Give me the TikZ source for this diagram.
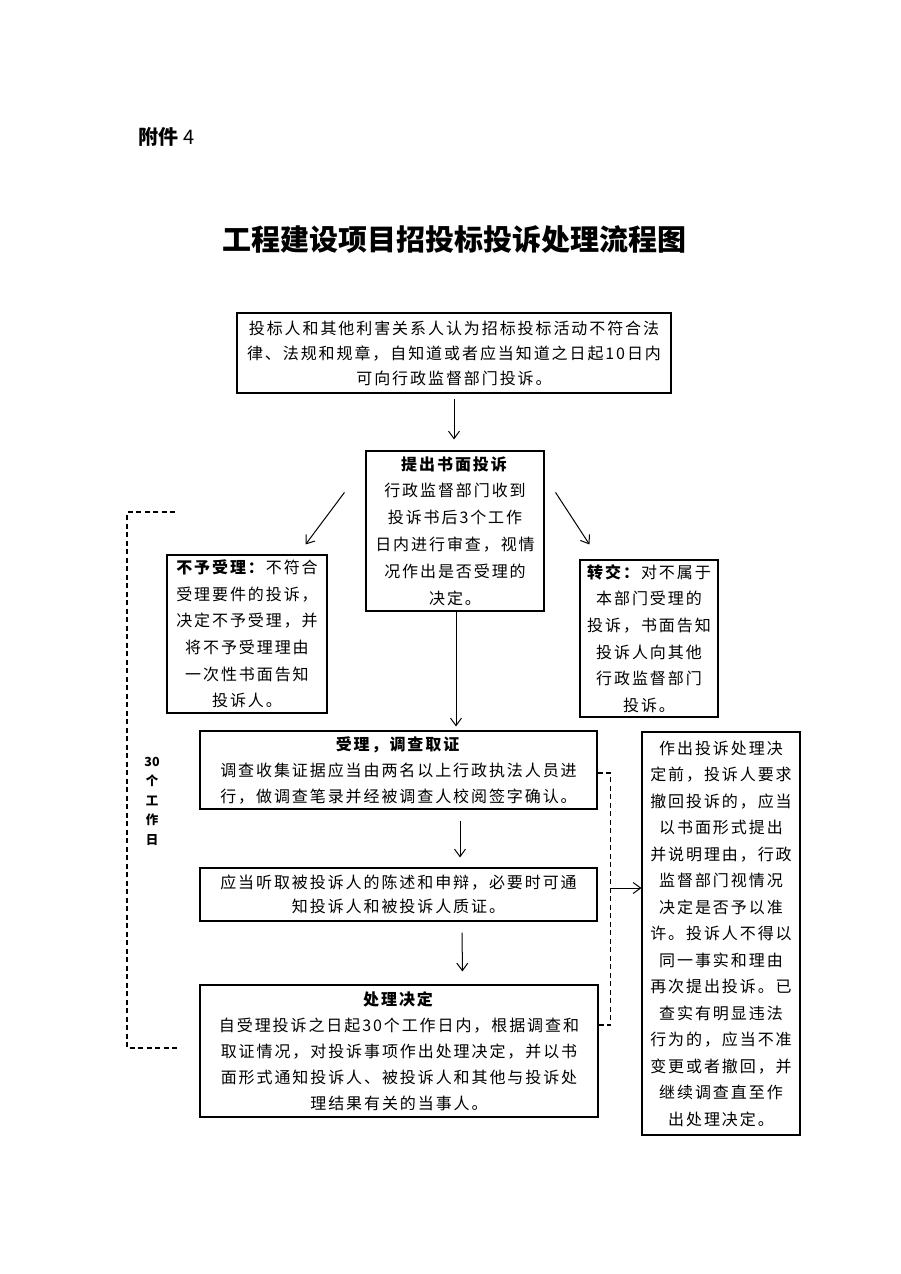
\documentclass[tikz,border=0pt]{standalone}
\usepackage{fontspec}
\setmainfont{Noto Sans CJK SC}
\newfontfamily\bodyf{Noto Sans CJK SC}[LetterSpace=12]
\usetikzlibrary{arrows.meta}
\tikzset{
  box/.style={draw, line width=1.1pt, align=center, inner sep=0pt,
    font={\bodyf\fontsize{16}{26}\selectfont}},
  arr/.style={line width=1pt, -{Straight Barb[length=7.5pt,width=11pt]}},
  dsh/.style={line width=1.1pt, dash pattern=on 5pt off 3.5pt},
}
\begin{document}
\begin{tikzpicture}[x=1pt,y=-1pt]
\useasboundingbox[fill=white] (0,0) rectangle (900,1274);

\node[font={\fontsize{20}{24}\selectfont}, anchor=west] (att) at (135,137) {\textbf{附件} 4};
\node[font={\bfseries\fontsize{29}{34}\selectfont}] (title) at (454,240) {工程建设项目招投标投诉处理流程图};

\node[box, minimum width=434, minimum height=80, font={\bodyf\fontsize{16}{25}\selectfont}] (b1) at (454,353)
 {投标人和其他利害关系人认为招标投标活动不符合法\\律、法规和规章，自知道或者应当知道之日起10日内\\可向行政监督部门投诉。};

\node[box, minimum width=178, minimum height=160, font={\bodyf\fontsize{16}{26.8}\selectfont}] (b2) at (455,531)
 {\textbf{提出书面投诉}\\行政监督部门收到\\投诉书后3个工作\\日内进行审查，视情\\况作出是否受理的\\决定。};

\node[box, minimum width=160, minimum height=158, font={\bodyf\fontsize{16}{26.6}\selectfont}] (nb) at (247,634)
 {\textbf{不予受理：}不符合\\受理要件的投诉，\\决定不予受理，并\\将不予受理理由\\一次性书面告知\\投诉人。};

\node[box, minimum width=138, minimum height=157, font={\bodyf\fontsize{16}{26.6}\selectfont}] (zj) at (649,638.5)
 {\textbf{转交：}对不属于\\本部门受理的\\投诉，书面告知\\投诉人向其他\\行政监督部门\\投诉。};

\node[box, minimum width=397, minimum height=78] (b3) at (398.5,770)
 {\textbf{受理，调查取证}\\调查收集证据应当由两名以上行政执法人员进\\行，做调查笔录并经被调查人校阅签字确认。};

\node[box, minimum width=397, minimum height=53, font={\bodyf\fontsize{16}{24.5}\selectfont}] (b4) at (398.5,894.5)
 {应当听取被投诉人的陈述和申辩，必要时可通\\知投诉人和被投诉人质证。};

\node[box, minimum width=398, minimum height=132] (b5) at (399,1051)
 {\textbf{处理决定}\\自受理投诉之日起30个工作日内，根据调查和\\取证情况，对投诉事项作出处理决定，并以书\\面形式通知投诉人、被投诉人和其他与投诉处\\理结果有关的当事人。};

\node[box, minimum width=158, minimum height=403, font={\bodyf\fontsize{16}{26.5}\selectfont}] (wd) at (721,933.5)
 {作出投诉处理决\\定前，投诉人要求\\撤回投诉的，应当\\以书面形式提出\\并说明理由，行政\\监督部门视情况\\决定是否予以准\\许。投诉人不得以\\同一事实和理由\\再次提出投诉。已\\查实有明显违法\\行为的，应当不准\\变更或者撤回，并\\继续调查直至作\\出处理决定。};

\node[font={\bfseries\fontsize{12.5}{19.5}\selectfont}, align=center] (days) at (152,801) {30\\个\\工\\作\\日};

% arrows
\draw[arr, shorten <=5pt, shorten >=11pt] (b1.south) -- (b1.south |- b2.north);
\draw[arr] ([xshift=-21pt,yshift=-42pt]b2.north west) -- ([xshift=-22pt,yshift=10pt]nb.north east);
\draw[arr] ([xshift=11pt,yshift=-42pt]b2.north east) -- ([xshift=10pt,yshift=15pt]zj.north west);
\draw[arr, shorten >=4pt] ([xshift=1pt]b2.south) -- ([xshift=1pt]b2.south |- b3.north);
\draw[arr, shorten <=11pt, shorten >=10pt] ([xshift=61.5pt]b3.south) -- ([xshift=61.5pt]b4.north);
\draw[arr, shorten <=11pt, shorten >=13pt] ([xshift=63.5pt]b4.south) -- ([xshift=63.5pt]b5.north);

% right dashed connector
\draw[dsh] ([yshift=-3pt]b3.east) -- ++(13,0) coordinate (rt) |- ([yshift=26pt]b5.east);
\coordinate (mid) at (610,888);
\draw[arr] (mid) -- (wd.west |- mid);

% left dashed bracket
\coordinate (lt) at (175,512);
\coordinate (lb) at (180,1048);
\draw[dsh] (lt) -- (127,512) -- (127,1048) -- (lb);
\end{tikzpicture}
\end{document}
